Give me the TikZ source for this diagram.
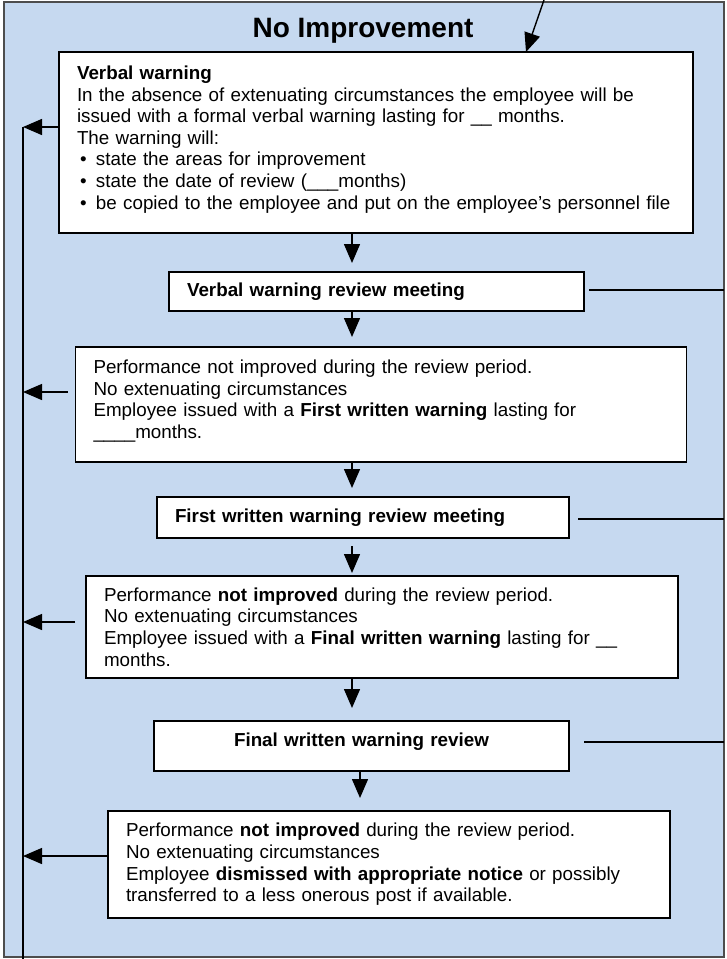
\documentclass[tikz,border=0pt]{standalone}
\usepackage{fontspec}
\setmainfont{Liberation Sans}
\usetikzlibrary{arrows.meta,calc}

\definecolor{paleblue}{HTML}{C6D9F0}
\definecolor{framegray}{HTML}{4D4D4D}

\newcommand{\itm}{\hspace*{3pt}\makebox[16pt][l]{\textbullet}}

\begin{document}
\begin{tikzpicture}[x=1pt,y=-1pt,
  txt/.style={font=\fontsize{18.8}{21.6}\selectfont},
  stagebox/.style={txt,shape=rectangle,draw=black,line width=1.6pt,fill=white,
    inner xsep=18pt,inner ysep=0pt,outer sep=0pt,anchor=north west,align=left},
  arr/.style={line width=1.4pt,-{Triangle[width=16pt,length=19pt]}},
  link/.style={line width=1.4pt}]

  \useasboundingbox (0,0) rectangle (726,959);

  % blue frame and heading
  \node[draw=framegray,line width=1.5pt,fill=paleblue,outer sep=0pt,inner sep=0pt,
    anchor=north west,minimum width=720pt,minimum height=955pt] (frame) at (4,2) {};
  \node[anchor=base,font=\fontsize{28}{32}\selectfont\bfseries] (title) at (363,37) {No Improvement};

  % stages
  \node[stagebox,text width=598pt,minimum height=181pt] (b1) at (59,52) {%
    \textbf{Verbal warning}\\
    In the absence of extenuating circumstances the employee will be\\
    issued with a formal verbal warning lasting for \_\_ months.\\
    The warning will:\\
    \itm state the areas for improvement\\
    \itm state the date of review (\_\_\_months)\\
    \itm be copied to the employee and put on the employee’s personnel file\rule[-10pt]{0pt}{10pt}};
  \node[stagebox,text width=379pt,minimum height=39pt] (b2) at (169,272) {\textbf{Verbal warning review meeting}};
  \node[stagebox,text width=575pt,minimum height=115pt] (b3) at (75.5,347) {%
    Performance not improved during the review period.\\
    No extenuating circumstances\\
    Employee issued with a \textbf{First written warning} lasting for\\
    \_\_\_\_months.\rule[-11pt]{0pt}{11pt}};
  \node[stagebox,text width=376pt,minimum height=41pt] (b4) at (157,497) {\textbf{First written warning review meeting}};
  \node[stagebox,text width=556pt,minimum height=102pt] (b5) at (86,576) {%
    Performance \textbf{not improved} during the review period.\\
    No extenuating circumstances\\
    Employee issued with a \textbf{Final written warning} lasting for \_\_\\
    months.};
  \node[stagebox,text width=379pt,minimum height=50pt,align=center] (b6) at (154,721) {\textbf{Final written warning review}\rule[-12pt]{0pt}{12pt}};
  \node[stagebox,text width=526pt,minimum height=107pt] (b7) at (108,811) {%
    Performance \textbf{not improved} during the review period.\\
    No extenuating circumstances\\
    Employee \textbf{dismissed with appropriate notice} or possibly\\
    transferred to a less onerous post if available.};

  % helper points
  \coordinate (entry) at (544,0);
  \coordinate (tip) at (526,0);
  \coordinate (mid) at (352,0);
  \coordinate (mid2) at (360,0);
  \coordinate (spinetop) at (23,127);
  \coordinate (spinebot) at (23,959);

  % incoming arrow
  \draw[arr] (entry) -- (b1.north -| tip);

  % down the stages
  \foreach \a/\b/\s/\g/\m in {b1/b2/0/9/mid, b2/b3/0/10/mid, b3/b4/0/9/mid,
                              b4/b5/8/3/mid, b5/b6/0/13/mid, b6/b7/0/13/mid2} {
    \draw[arr] ($(\a.south -| \m)+(0,\s)$) -- ($(\b.north -| \m)+(0,-\g)$);
  };

  % back to the left line
  \draw[line width=2pt] (spinetop) -- (spinebot);
  \foreach \b/\g/\d in {b1/0/-15.5, b3/8/-12.5, b5/11/-5, b7/0/-8.5} {
    \draw[arr] ($(\b.west)+(-\g,\d)$) coordinate (l\b) -- (spinetop |- l\b);
  };

  % out to the right edge
  \foreach \b/\g/\d in {b2/5/-1.5, b4/9/1.5, b6/15/-4} {
    \draw[link] ($(\b.east)+(\g,\d)$) coordinate (r\b) -- (frame.east |- r\b);
  };

\end{tikzpicture}
\end{document}
